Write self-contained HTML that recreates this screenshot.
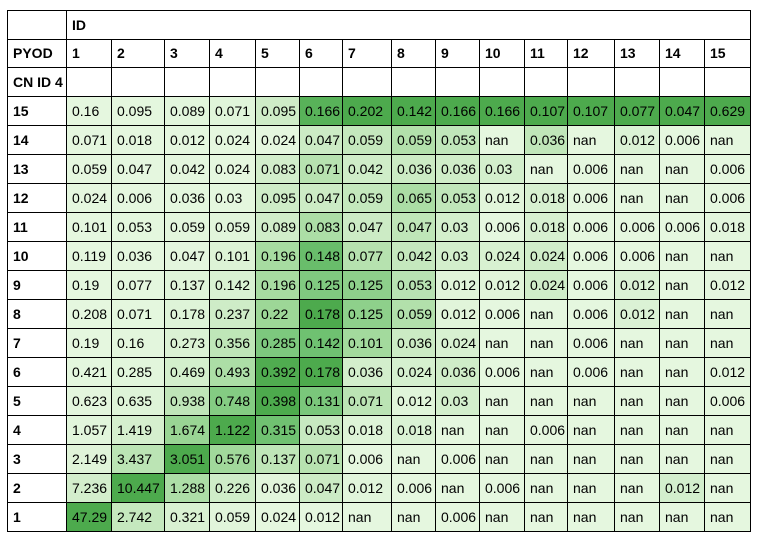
<!DOCTYPE html>
<html><head><meta charset="utf-8"><style>
body{margin:0;background:#fff;width:758px;height:543px;overflow:hidden;font-family:"Liberation Sans",sans-serif;}
table{position:absolute;left:7px;top:10px;border-collapse:collapse;table-layout:fixed;width:744px;font-size:14px;color:#000;}
td,th{border:1px solid #000;padding:0 0 0 5px;text-align:left;white-space:nowrap;overflow:hidden;}
th{font-weight:bold;}
tr.h{height:28.5px;}
tr.d{height:29.07px;}
</style></head><body>
<table id="tbl">
<colgroup id="cg"></colgroup>
<tbody id="tb"></tbody>
</table>
<script>
const colIds=[1,2,3,4,5,6,7,8,9,10,11,12,13,14,15];
const rowIds=[15,14,13,12,11,10,9,8,7,6,5,4,3,2,1];
const values=[
["0.16","0.095","0.089","0.071","0.095","0.166","0.202","0.142","0.166","0.166","0.107","0.107","0.077","0.047","0.629"],
["0.071","0.018","0.012","0.024","0.024","0.047","0.059","0.059","0.053","nan","0.036","nan","0.012","0.006","nan"],
["0.059","0.047","0.042","0.024","0.083","0.071","0.042","0.036","0.036","0.03","nan","0.006","nan","nan","0.006"],
["0.024","0.006","0.036","0.03","0.095","0.047","0.059","0.065","0.053","0.012","0.018","0.006","nan","nan","0.006"],
["0.101","0.053","0.059","0.059","0.089","0.083","0.047","0.047","0.03","0.006","0.018","0.006","0.006","0.006","0.018"],
["0.119","0.036","0.047","0.101","0.196","0.148","0.077","0.042","0.03","0.024","0.024","0.006","0.006","nan","nan"],
["0.19","0.077","0.137","0.142","0.196","0.125","0.125","0.053","0.012","0.012","0.024","0.006","0.012","nan","0.012"],
["0.208","0.071","0.178","0.237","0.22","0.178","0.125","0.059","0.012","0.006","nan","0.006","0.012","nan","nan"],
["0.19","0.16","0.273","0.356","0.285","0.142","0.101","0.036","0.024","nan","nan","0.006","nan","nan","nan"],
["0.421","0.285","0.469","0.493","0.392","0.178","0.036","0.024","0.036","0.006","nan","0.006","nan","nan","0.012"],
["0.623","0.635","0.938","0.748","0.398","0.131","0.071","0.012","0.03","nan","nan","nan","nan","nan","0.006"],
["1.057","1.419","1.674","1.122","0.315","0.053","0.018","0.018","nan","nan","0.006","nan","nan","nan","nan"],
["2.149","3.437","3.051","0.576","0.137","0.071","0.006","nan","0.006","nan","nan","nan","nan","nan","nan"],
["7.236","10.447","1.288","0.226","0.036","0.047","0.012","0.006","nan","0.006","nan","nan","nan","0.012","nan"],
["47.29","2.742","0.321","0.059","0.024","0.012","nan","nan","0.006","nan","nan","nan","nan","nan","nan"]
];
const stops=[[229,247,223],[199,233,192],[161,217,155],[116,196,118],[77,170,77]];
function color(t){
  t=Math.max(0,Math.min(1,t))*(stops.length-1);
  const i=Math.min(Math.floor(t),stops.length-2),f=t-i;
  const c=stops[i].map((v,k)=>Math.round(v+(stops[i+1][k]-v)*f));
  return `rgb(${c[0]},${c[1]},${c[2]})`;
}
const widths=[59,45,53,45,46,44,43,49,44,44,45,43,47,45,45,46];
const cg=document.getElementById('cg');
widths.forEach(w=>{const c=document.createElement('col');c.style.width=w+'px';cg.appendChild(c);});
const tb=document.getElementById('tb');
function mk(tag,txt,name,parent){const e=document.createElement(tag);e.textContent=txt;


parent.appendChild(e);return e;}
let r=document.createElement('tr');r.className='h';tb.appendChild(r);


mk('th','','corner-cell',r);
let idc=mk('th','ID','id-header',r);idc.colSpan=15;
r=document.createElement('tr');r.className='h';tb.appendChild(r);


mk('th','PYOD','pyod-header',r);
colIds.forEach(c=>mk('th',String(c),'column-header-'+c,r));
r=document.createElement('tr');r.className='h';tb.appendChild(r);


mk('th','CN ID 4','index-name-header',r);
colIds.forEach(c=>mk('td','','empty-header-cell',r));
const mins=[],maxs=[];
colIds.forEach((c,j)=>{const v=values.map(row=>parseFloat(row[j])).filter(x=>!isNaN(x));mins.push(Math.min(...v));maxs.push(Math.max(...v));});
rowIds.forEach((rid,i)=>{
  const tr=document.createElement('tr');tr.className='d';tb.appendChild(tr);
  
  
  mk('th',String(rid),'row-header-'+rid,tr);
  values[i].forEach((s,j)=>{
    const td=mk('td',s,'cell-'+rid+'-'+colIds[j],tr);
    const v=parseFloat(s);
    const t=isNaN(v)?0:(v-mins[j])/((maxs[j]-mins[j])||1);
    td.style.background=color(t);
  });
});
</script>
</body></html>
